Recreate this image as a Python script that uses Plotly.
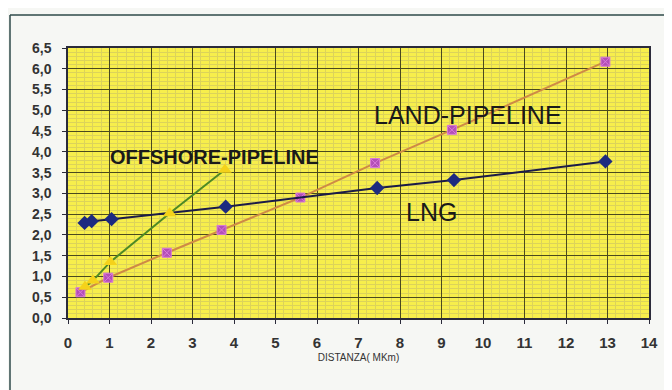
import plotly.graph_objects as go

# LNG
lng_x = [0.4, 0.57, 1.05, 3.8, 7.45, 9.3, 12.95]
lng_y = [2.29, 2.33, 2.38, 2.68, 3.13, 3.32, 3.77]
# LAND-PIPELINE
land_x = [0.3, 0.97, 2.38, 3.7, 5.6, 7.4, 9.25, 12.95]
land_y = [0.62, 0.97, 1.57, 2.12, 2.9, 3.73, 4.53, 6.17]
# OFFSHORE-PIPELINE
off_x = [0.41, 0.6, 1.02, 2.45, 3.78]
off_y = [0.75, 0.9, 1.35, 2.52, 3.57]

x_ticks = list(range(0, 15))
y_ticks = [i * 0.5 for i in range(14)]

FONT = "Liberation Sans, Arial"

fig = go.Figure()
fig.add_trace(go.Scatter(x=land_x, y=land_y, mode="lines+markers",
                         line=dict(color="#cf8a45", width=2),
                         marker=dict(symbol="square-x", size=9, color="#b34fb8",
                                     line=dict(color="#d87ad8", width=1))))
fig.add_trace(go.Scatter(x=lng_x, y=lng_y, mode="lines+markers",
                         line=dict(color="#1b1b48", width=2),
                         marker=dict(symbol="diamond", size=11, color="#1d2a80")))
fig.add_trace(go.Scatter(x=off_x, y=off_y, mode="lines+markers",
                         line=dict(color="#4d8a24", width=2),
                         marker=dict(symbol="triangle-up", size=12, color="#f5d21a")))

axis_common = dict(showline=True, linecolor="#2b2b3a", linewidth=1.5, mirror=True,
                   ticks="outside", ticklen=4, tickcolor="#2b2b3a",
                   showgrid=True, gridcolor="#4b4a1e", gridwidth=1,
                   zeroline=False)

fig.update_xaxes(range=[0, 14], tickvals=x_ticks, ticktext=[str(v) for v in x_ticks],
                 tickfont=dict(family=FONT, size=15, color="#333333", weight="bold"),
                 ticklabelstandoff=6,
                 minor=dict(dtick=0.2, showgrid=True, gridcolor="#dcd35a", gridwidth=1),
                 title=dict(text="DISTANZA( MKm)", font=dict(family=FONT, size=10, color="#333333"), standoff=4),
                 **axis_common)
fig.update_yaxes(range=[0, 6.5], tickvals=y_ticks, tickformat=".1f",
                 tickfont=dict(family=FONT, size=14, color="#333333", weight="bold"),
                 ticklabelstandoff=8,
                 minor=dict(dtick=0.1, showgrid=True, gridcolor="#dcd35a", gridwidth=1),
                 **axis_common)

fig.add_annotation(x=3.52, y=3.88, text="<b>OFFSHORE-PIPELINE</b>", showarrow=False,
                   font=dict(family=FONT, size=20, color="#1a1a1a"))
fig.add_annotation(x=9.64, y=4.89, text="LAND-PIPELINE", showarrow=False,
                   font=dict(family=FONT, size=25, color="#1a1a1a"))
fig.add_annotation(x=8.77, y=2.55, text="LNG", showarrow=False,
                   font=dict(family=FONT, size=25, color="#1a1a1a"))

# outer frame
fig.add_shape(type="line", xref="paper", yref="paper", x0=-58/581, x1=-58/581, y0=-1.0, y1=(318-15)/270,
              line=dict(color="#2e4a4a", width=1.5))
fig.add_shape(type="line", xref="paper", yref="paper", x0=-58/581, x1=(672-68)/581, y0=(318-15)/270, y1=(318-15)/270,
              line=dict(color="#2e4a4a", width=1.5))

# page body has an 8px margin; compensate so the plot area sits at 68..649 x 48..318
fig.update_layout(width=672, height=390, separators=",.",
                  margin=dict(l=60, r=31, t=40, b=80),
                  plot_bgcolor="#f7ee4c", paper_bgcolor="#f6f7f4",
                  showlegend=False)

fig.write_html("out.html")
